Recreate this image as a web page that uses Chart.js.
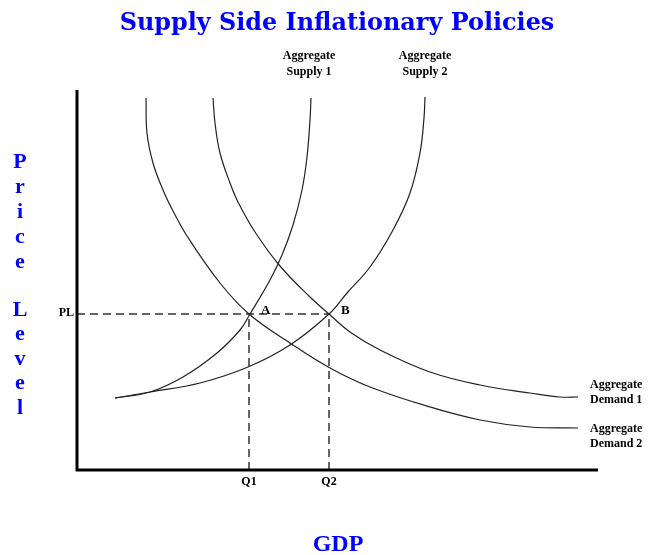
<!DOCTYPE html>
<html>
<head>
<meta charset="utf-8">
<script src="https://cdn.jsdelivr.net/npm/chart.js@4.4.0/dist/chart.umd.min.js"></script>
<style>
  html, body { margin: 0; padding: 0; background: #fff; }
  #wrap { width: 662px; height: 555px; }
</style>
</head>
<body>
<div id="wrap"><canvas id="myChart" width="662" height="555"></canvas></div>
<script>
"use strict";

// curves (GDP units across, price units up)
const supply1 = [[38,72],[73,78],[106,93],[140,117],[163,140],[173,156],[193,190],[205,215],[216,245],[225,280],[230,313],[233,350],[234,372]];
const supply2 = [[38,72],[73,78],[123,87],[171,103],[213,125],[252,156],[270,177],[293,203],[316,240],[333,277],[343,317],[347,352],[348,373]];
const demandA = [[69,372],[70,337],[76,307],[86,280],[96,259],[110,234],[143,187],[172,156],[213,127],[253,102],[293,83],[353,63],[403,50],[453,43],[501,42]];
const demandB = [[136,372],[138,347],[143,317],[153,287],[161,268],[178,238],[203,204],[233,173],[252,156],[273,138],[303,120],[353,98],[403,85],[453,77],[483,73],[501,73]];

const priceLevel = 156;
const qValues = [172, 252];
const qLabels = ['Q1', 'Q2'];
const pointNames = ['A', 'B'];

const xMax = 521;
const yMax = 380;

const toXY = arr => arr.map(p => ({ x: p[0], y: p[1] }));

const curveStyle = {
  borderColor: '#222',
  borderWidth: 1.2,
  pointRadius: 0,
  showLine: true,
  fill: false,
  tension: 0.4
};
const dashStyle = {
  borderColor: '#333',
  borderWidth: 1.5,
  borderDash: [8, 5],
  pointRadius: 0,
  showLine: true,
  fill: false
};

const datasets = [
  Object.assign({ data: toXY(supply1) }, curveStyle),
  Object.assign({ data: toXY(supply2) }, curveStyle),
  Object.assign({ data: toXY(demandA) }, curveStyle),
  Object.assign({ data: toXY(demandB) }, curveStyle),
  Object.assign({ data: [{ x: 0, y: priceLevel }, { x: qValues[1], y: priceLevel }] }, dashStyle),
];
qValues.forEach(q => {
  datasets.push(Object.assign({ data: [{ x: q, y: 0 }, { x: q, y: priceLevel }] }, dashStyle));
});

// axes and all the text
const textPlugin = {
  id: 'textPlugin',
  afterDraw(chart) {
    const ctx = chart.ctx;
    const area = chart.chartArea;
    const xs = chart.scales.x;
    const ys = chart.scales.y;
    ctx.save();

    // axes
    ctx.strokeStyle = '#000';
    ctx.lineWidth = 3;
    ctx.beginPath();
    ctx.moveTo(area.left, area.top);
    ctx.lineTo(area.left, area.bottom);
    ctx.lineTo(area.right, area.bottom);
    ctx.stroke();

    // title - wide serif, sized to span about 435px
    const title = 'Supply Side Inflationary Policies';
    ctx.fillStyle = '#0000ff';
    ctx.textAlign = 'center';
    ctx.textBaseline = 'alphabetic';
    ctx.font = 'bold 24px "DejaVu Serif"';
    const tSize = Math.min(26, 24 * 435 / ctx.measureText(title).width);
    ctx.font = 'bold ' + tSize.toFixed(1) + 'px "DejaVu Serif"';
    ctx.fillText(title, 337, 30);

    // axis titles
    ctx.textBaseline = 'middle';
    ctx.font = 'bold 24px "Liberation Serif"';
    ctx.fillText('GDP', 338, 545);
    ctx.font = 'bold 22px "Liberation Serif"';
    const word1 = 'Price';
    const word2 = 'Level';
    for (let i = 0; i < word1.length; i++) ctx.fillText(word1[i], 20, 162 + i * 25);
    for (let i = 0; i < word2.length; i++) ctx.fillText(word2[i], 20, 310 + i * 24.5);

    // small labels
    ctx.fillStyle = '#000';
    ctx.font = 'bold 12px "Liberation Serif"';
    const py = ys.getPixelForValue(priceLevel);
    ctx.textAlign = 'right';
    ctx.fillText('PL', area.left - 3, py - 1);
    ctx.textAlign = 'center';
    qValues.forEach((q, i) => {
      ctx.fillText(qLabels[i], xs.getPixelForValue(q), area.bottom + 12);
    });
    ctx.font = 'bold 13px "Liberation Serif"';
    ctx.textAlign = 'left';
    qValues.forEach((q, i) => {
      ctx.fillText(pointNames[i], xs.getPixelForValue(q) + 12, py - 3);
    });

    ctx.font = 'bold 12px "Liberation Serif"';
    ctx.textAlign = 'center';
    ctx.fillText('Aggregate', 309, 56);
    ctx.fillText('Supply 1', 309, 72);
    ctx.fillText('Aggregate', 425, 56);
    ctx.fillText('Supply 2', 425, 72);
    ctx.textAlign = 'left';
    ctx.fillText('Aggregate', 590, 385);
    ctx.fillText('Demand 1', 590, 400);
    ctx.fillText('Aggregate', 590, 429);
    ctx.fillText('Demand 2', 590, 444);

    ctx.restore();
  }
};

const config = {
  type: 'scatter',
  data: { datasets: datasets },
  options: {
    responsive: false,
    animation: false,
    layout: { padding: { left: 77, right: 64, top: 90, bottom: 85 } },
    plugins: {
      legend: { display: false },
      tooltip: { enabled: false },
      title: { display: false }
    },
    scales: {
      x: { type: 'linear', min: 0, max: xMax, display: false },
      y: { type: 'linear', min: 0, max: yMax, display: false }
    }
  },
  plugins: [textPlugin]
};

const ctx = document.querySelector('#myChart').getContext('2d');
const myChart = new Chart(ctx, config);
</script>
</body>
</html>
